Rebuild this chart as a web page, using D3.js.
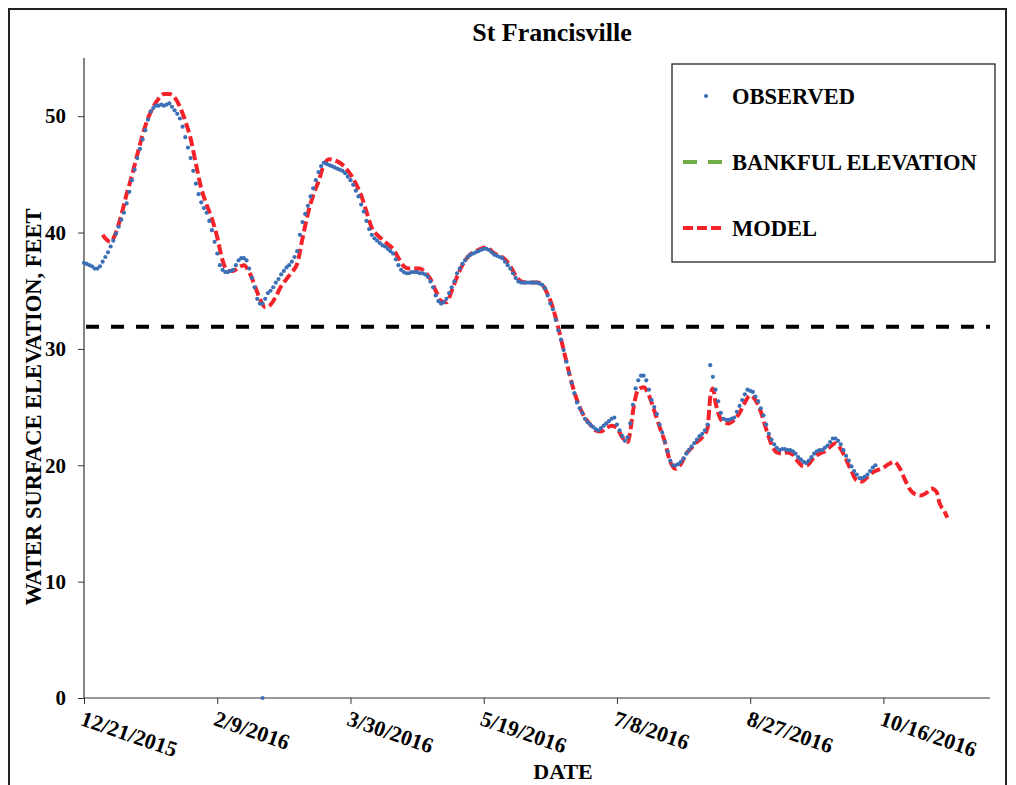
<!DOCTYPE html>
<html lang="en">
<head>
<meta charset="utf-8">
<title>St Francisville</title>
<script src="https://d3js.org/d3.v7.min.js"></script>
<style>
    body { margin: 0; background: #fff; }
    text { font-family: "Liberation Serif", "Times New Roman", serif; font-weight: bold; fill: #000; }
</style>
</head>
<body>
<svg class="stageChart" width="1016" height="785"></svg>
<script>
    // series start date, every series value is one day after the previous one
    let startDate = "12/21/2015";
    let axisEndDate = "11/25/2016";
    let xTickLabels = ["12/21/2015", "2/9/2016", "3/30/2016", "5/19/2016", "7/8/2016", "8/27/2016", "10/16/2016"];
    let yTicks = [0, 10, 20, 30, 40, 50];
    let bankfulElevation = 31.9;

    // observed stage, daily, ft
    let observed = [
        37.4, 37.3, 37.2, 37.1, 36.9, 36.9, 37.1, 37.5, 37.9, 38.3,
        38.8, 39.3, 39.9, 40.5, 41.1, 41.7, 42.5, 43.5, 44.5, 45.4,
        46.4, 47.2, 48.0, 48.8, 49.7, 50.4, 50.7, 50.9, 50.9, 51.0,
        50.9, 51.0, 51.1, 50.8, 50.5, 50.2, 49.8, 49.1, 48.2, 47.3,
        46.4, 45.3, 44.2, 43.3, 42.6, 42.1, 41.7, 41.0, 40.2, 39.2,
        38.2, 37.2, 36.8, 36.6, 36.6, 36.7, 36.8, 37.2, 37.6, 37.8,
        37.8, 37.6, 36.9, 36.1, 35.3, 34.3, 33.9, 33.9, 34.3, 34.8,
        35.0, 35.3, 35.7, 36.0, 36.4, 36.7, 37.0, 37.2, 37.5, 37.9,
        38.4, 39.8, 40.9, 41.6, 42.3, 43.1, 43.8, 44.5, 45.2, 45.7,
        46.0, 45.9, 45.8, 45.7, 45.6, 45.5, 45.4, 45.3, 45.1, 44.8,
        44.5, 44.1, 43.6, 43.1, 42.4, 41.8, 41.0, 40.3, 39.8, 39.5,
        39.3, 39.1, 38.9, 38.8, 38.6, 38.4, 38.2, 37.7, 37.2, 36.8,
        36.6, 36.5, 36.5, 36.6, 36.6, 36.6, 36.5, 36.5, 36.4, 36.2,
        35.8, 35.3, 34.6, 34.1, 33.9, 34.0, 34.3, 34.8, 35.3, 35.8,
        36.5, 36.9, 37.3, 37.6, 37.9, 38.1, 38.2, 38.3, 38.4, 38.5,
        38.6, 38.6, 38.5, 38.3, 38.1, 38.0, 37.9, 37.8, 37.5, 37.2,
        36.9, 36.5, 36.1, 35.8, 35.7, 35.7, 35.7, 35.7, 35.7, 35.7,
        35.7, 35.6, 35.5, 35.2, 34.6, 33.9, 33.4, 32.5, 31.6, 30.8,
        29.9, 28.9, 27.9, 27.1, 26.2, 25.4, 24.9, 24.5, 24.0, 23.7,
        23.5, 23.3, 23.1, 23.0, 23.2, 23.4, 23.6, 23.8, 24.0, 24.1,
        23.5, 23.0, 22.5, 22.1, 22.4, 23.6, 25.2, 26.6, 27.3, 27.7,
        27.7, 27.3, 26.5, 25.6, 25.0, 24.4, 23.5, 22.8, 22.0, 21.2,
        20.4, 20.0, 20.0, 20.1, 20.3, 20.6, 21.0, 21.3, 21.6, 21.9,
        22.2, 22.5, 22.7, 23.0, 23.5, 28.6, 27.6, 26.5, 25.5, 24.5,
        24.0, 23.9, 23.9, 24.0, 24.1, 24.6, 25.1, 25.6, 26.1, 26.5,
        26.4, 26.3, 25.9, 25.5, 24.9, 24.3, 23.5, 22.7, 22.2, 21.8,
        21.5, 21.3, 21.4, 21.4, 21.3, 21.3, 21.2, 21.0, 20.7, 20.5,
        20.3, 20.2, 20.4, 20.7, 21.0, 21.2, 21.3, 21.3, 21.5, 21.7,
        22.0, 22.3, 22.3, 22.1, 21.8, 21.3, 20.8, 20.4, 19.9, 19.5,
        19.2, 18.9, 18.9, 19.0, 19.2, 19.5, 19.8, 20.0
    ];
    // single zero reading in the gage record
    let observedOutlierDates = ["2/26/2016"];
    let observedOutlierValues = [0];

    // model output: day offset from startDate, stage in ft
    let modelDays = [
        7, 8, 10, 12, 14, 16, 18, 20, 22, 24, 26, 28, 30, 32, 34, 36, 38, 40, 42, 44,
        46, 48, 50, 52, 54, 56, 58, 60, 62, 64, 66, 68, 70, 72, 74, 76, 78, 80, 82, 84,
        86, 88, 90, 92, 94, 96, 98, 100, 102, 104, 106, 108, 110, 112, 114, 116, 118, 120, 122, 124,
        126, 128, 130, 132, 134, 136, 138, 140, 142, 144, 146, 148, 150, 152, 154, 156, 158, 160, 162, 164,
        166, 168, 170, 172, 174, 176, 178, 180, 182, 184, 186, 188, 190, 192, 194, 196, 198, 200, 202, 204,
        205, 206, 208, 210, 212, 214, 216, 218, 220, 222, 224, 226, 228, 230, 232, 234, 235, 236, 237, 238,
        240, 242, 244, 246, 248, 250, 252, 254, 256, 258, 260, 262, 264, 266, 268, 270, 272, 274, 276, 278,
        280, 282, 284, 286, 288, 290, 292, 294, 296, 298, 300, 302, 304, 306, 308, 310, 312, 314, 316, 318,
        320, 321, 323, 324
    ];
    let modelValues = [
        39.8, 39.5, 39.2, 40.0, 41.5, 43.3, 44.9, 46.7, 48.4, 49.8, 50.8, 51.5, 51.9, 51.9, 51.6, 50.8, 49.6, 48.1, 45.9, 43.8,
        42.4, 41.2, 39.6, 37.6, 36.7, 36.7, 37.0, 37.2, 36.6, 35.5, 34.3, 33.6, 33.8, 34.5, 35.4, 36.0, 36.6, 37.3, 39.5, 41.6,
        43.2, 44.4, 45.8, 46.3, 46.2, 46.0, 45.6, 45.0, 44.2, 43.2, 41.8, 40.4, 39.8, 39.4, 39.0, 38.6, 37.8, 37.1, 36.9, 36.9,
        36.9, 36.6, 36.0, 35.0, 34.1, 34.0, 35.0, 36.2, 37.2, 37.9, 38.3, 38.5, 38.7, 38.6, 38.2, 38.0, 37.7, 37.1, 36.3, 35.8,
        35.7, 35.7, 35.7, 35.5, 34.7, 33.5, 31.8, 29.9, 28.0, 26.3, 25.0, 24.1, 23.5, 23.0, 22.9, 23.2, 23.4, 23.2, 22.4, 22.0,
        22.9, 24.6, 26.5, 26.7, 26.0, 24.7, 23.3, 22.0, 20.3, 19.7, 20.1, 21.0, 21.5, 22.0, 22.4, 23.2, 25.8, 26.6, 25.4, 24.5,
        23.7, 23.6, 23.9, 24.5, 25.4, 26.0, 25.6, 24.6, 23.1, 21.8, 21.1, 21.0, 21.1, 20.9, 20.3, 19.9, 20.1, 20.7, 21.0, 21.2,
        21.6, 21.9, 21.4, 20.5, 19.5, 18.7, 18.6, 19.0, 19.4, 19.6, 19.8, 20.1, 20.3, 19.8, 18.8, 17.9, 17.5, 17.4, 17.6, 18.0,
        17.7, 16.8, 16.0, 15.5
    ];

    let legendLabels = ["OBSERVED", "BANKFUL ELEVATION", "MODEL"];

    // basic parameters
    let plotLeft = 84, plotRight = 990, plotTop = 58, plotBottom = 698;
    let blue = "#3b6fb6", red = "#f5222a", green = "#70ad47";

    let parseDate = d3.utcParse("%m/%d/%Y");
    let day0 = parseDate(startDate);
    function dayToDate(n) {
        return d3.utcDay.offset(day0, n);
    }

    let svg = d3.select(".stageChart");

    // outer frame
    svg.append("rect")
        .attr("x", 9).attr("y", 9)
        .attr("width", 997).attr("height", 800)
        .attr("fill", "none")
        .attr("stroke", "#222")
        .attr("stroke-width", 2);

    let x = d3.scaleUtc()
        .domain([day0, parseDate(axisEndDate)])
        .range([plotLeft, plotRight]);
    let y = d3.scaleLinear()
        .domain([0, 55])
        .range([plotBottom, plotTop]);

    // axes
    let yAxis = d3.axisLeft(y)
        .tickValues(yTicks)
        .tickSize(6)
        .tickPadding(12);
    let yAxisGroup = svg.append("g")
        .attr("transform", "translate(" + plotLeft + ",0)")
        .call(yAxis);
    yAxisGroup.select(".domain").remove();
    yAxisGroup.selectAll("line").attr("stroke", "#333");
    yAxisGroup.selectAll("text")
        .style("font-size", "21px")
        .style("font-family", "'Liberation Serif', serif")
        .style("font-weight", "bold");
    svg.append("line")
        .attr("x1", plotLeft).attr("x2", plotLeft)
        .attr("y1", plotTop).attr("y2", plotBottom)
        .attr("stroke", "#333").attr("stroke-width", 1.2);

    let xAxis = d3.axisBottom(x)
        .tickValues(xTickLabels.map(parseDate))
        .tickSize(6)
        .tickFormat("");
    let xAxisGroup = svg.append("g")
        .attr("transform", "translate(0," + plotBottom + ")")
        .call(xAxis);
    xAxisGroup.select(".domain").remove();
    xAxisGroup.selectAll("line").attr("stroke", "#333");
    svg.append("line")
        .attr("x1", plotLeft).attr("x2", plotRight)
        .attr("y1", plotBottom).attr("y2", plotBottom)
        .attr("stroke", "#333").attr("stroke-width", 1.2);

    svg.selectAll(".xlabel")
        .data(xTickLabels)
        .enter().append("text")
        .attr("class", "xlabel")
        .attr("transform", function (d) {
            return "translate(" + (x(parseDate(d)) + 1) + "," + (plotBottom + 10) + ") rotate(19)";
        })
        .attr("dy", "0.8em")
        .style("font-size", "22px")
        .style("text-anchor", "start")
        .text(function (d) { return d; });

    // bankful elevation
    svg.append("line")
        .attr("x1", plotLeft + 2).attr("x2", plotRight)
        .attr("y1", y(bankfulElevation)).attr("y2", y(bankfulElevation))
        .attr("stroke", "#000")
        .attr("stroke-width", 4)
        .attr("stroke-dasharray", "13,12");

    // model
    let modelData = modelDays.map(function (d, i) {
        return { date: dayToDate(d), value: modelValues[i] };
    });
    let line = d3.line()
        .x(function (d) { return x(d.date); })
        .y(function (d) { return y(d.value); })
        .curve(d3.curveMonotoneX);
    svg.append("path")
        .datum(modelData)
        .attr("d", line)
        .attr("fill", "none")
        .attr("stroke", red)
        .attr("stroke-width", 4)
        .attr("stroke-dasharray", "10,4");

    // observed
    let observedData = observed.map(function (v, i) {
        return { date: dayToDate(i), value: v };
    }).concat(observedOutlierDates.map(function (d, i) {
        return { date: parseDate(d), value: observedOutlierValues[i] };
    }));
    svg.selectAll(".obs")
        .data(observedData)
        .enter().append("circle")
        .attr("class", "obs")
        .attr("cx", function (d) { return x(d.date); })
        .attr("cy", function (d) { return y(d.value); })
        .attr("r", 2.1)
        .attr("fill", blue);

    // titles
    svg.append("text")
        .attr("x", 552).attr("y", 41)
        .style("font-size", "26px")
        .style("text-anchor", "middle")
        .text("St Francisville");
    svg.append("text")
        .attr("x", 563).attr("y", 779)
        .style("font-size", "22px")
        .style("text-anchor", "middle")
        .text("DATE");
    svg.append("text")
        .attr("transform", "translate(41,407) rotate(-90)")
        .style("font-size", "22.5px")
        .style("text-anchor", "middle")
        .text("WATER SURFACE ELEVATION, FEET");

    // legend
    let legend = svg.append("g");
    legend.append("rect")
        .attr("x", 672).attr("y", 64)
        .attr("width", 323).attr("height", 198)
        .attr("fill", "#fff")
        .attr("stroke", "#222")
        .attr("stroke-width", 1.3);
    let legendY = [96, 162, 228];
    legend.append("circle")
        .attr("cx", 706).attr("cy", legendY[0])
        .attr("r", 2.1).attr("fill", blue);
    legend.append("line")
        .attr("x1", 683).attr("x2", 723)
        .attr("y1", legendY[1]).attr("y2", legendY[1])
        .attr("stroke", green).attr("stroke-width", 4)
        .attr("stroke-dasharray", "14,11");
    legend.append("line")
        .attr("x1", 683).attr("x2", 723)
        .attr("y1", legendY[2]).attr("y2", legendY[2])
        .attr("stroke", red).attr("stroke-width", 4)
        .attr("stroke-dasharray", "10,4");
    legend.selectAll(".ltext")
        .data(legendLabels)
        .enter().append("text")
        .attr("class", "ltext")
        .attr("x", 732)
        .attr("y", function (d, i) { return legendY[i]; })
        .attr("dy", "0.35em")
        .style("font-size", "22.5px")
        .text(function (d) { return d; });
</script>
</body>
</html>
